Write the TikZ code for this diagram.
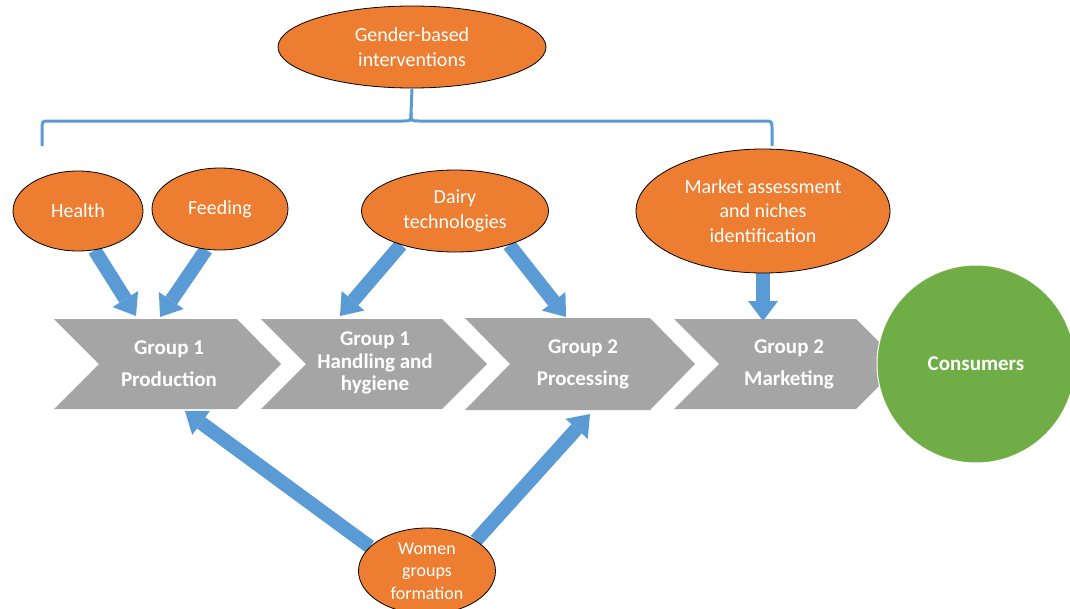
\documentclass[tikz,border=0pt]{standalone}
\usepackage{fontspec}
\setmainfont{Carlito}
\usetikzlibrary{shapes.geometric,arrows.meta}
\pgfdeclarelayer{back}
\pgfsetlayers{back,main}
\definecolor{accOrange}{HTML}{ED7D31}
\definecolor{accBlue}{HTML}{5B9BD5}
\definecolor{accGray}{HTML}{A5A5A5}
\definecolor{accGreen}{HTML}{70AD47}
\begin{document}
\begin{tikzpicture}[x=1pt,y=-1pt,
  oval/.style={ellipse, fill=accOrange, draw=black, line width=0.8pt, text=white,
    inner sep=0pt, align=center, font=\fontsize{20}{24.5}\selectfont},
  chevron/.style={fill=accGray},
  steplabel/.style={text=white, align=center, font=\bfseries\fontsize{21}{24}\selectfont},
  flow/.style={draw=accBlue, line width=14pt,
    -{Triangle[length=20pt,width=30pt,line width=0pt]}},
  brace/.style={draw=accBlue, line width=3pt},
]
\clip (0,0) rectangle (1070,608);

% intervention ovals
\node[oval, minimum width=268pt, minimum height=82pt] (gender) at (412,47) {Gender-based\\interventions};
\node[oval, minimum width=130pt, minimum height=80pt] (health) at (78,211) {Health};
\node[oval, minimum width=136pt, minimum height=82pt] (feeding) at (220,209) {Feeding};
\node[oval, minimum width=187pt, minimum height=82pt] (dairy) at (455,211) {Dairy\\technologies};
\node[oval, minimum width=254pt, minimum height=124pt] (market) at (763,211) {Market assessment\\and niches\\identification};
\node[oval, minimum width=137pt, minimum height=86pt, font=\fontsize{18}{22.5}\selectfont] (women) at (427,571) {Women\\groups\\formation};

% brace under the gender-based interventions
\draw[brace] (42,146) -- (42,129) .. controls (42,121) .. (50,121) -- (403,121)
  .. controls (411,121) .. (411,113) -- (gender.south);
\draw[brace] (411,113) .. controls (411,121) .. (419,121) -- (764,121)
  .. controls (772,121) .. (772,129) -- (772,146);

% value chain steps
\begin{pgfonlayer}{back}
\fill[chevron] (54,319) -- (237,319) -- (281,364) -- (237,409) -- (54,409) -- (99,364) -- cycle;
\fill[chevron] (261,319) -- (442,319) -- (487,364) -- (442,409) -- (261,409) -- (306,364) -- cycle;
\fill[chevron] (465,318) -- (650,318) -- (695,364) -- (650,410) -- (465,410) -- (510,364) -- cycle;
\fill[chevron] (674,319) -- (856,319) -- (901,364) -- (856,409) -- (674,409) -- (719,364) -- cycle;
\end{pgfonlayer}

\node[steplabel] (g1) at (169,364) {Group 1\\[8pt]Production};
\node[steplabel, font=\bfseries\fontsize{21}{22.5}\selectfont] (g2) at (375,363) {Group 1\\Handling and\\hygiene};
\node[steplabel] (g3) at (583,364) {Group 2\\[8pt]Processing};
\node[steplabel] (g4) at (789,364) {Group 2\\[8pt]Marketing};

\node[circle, fill=accGreen, draw=white, line width=1pt, minimum size=198pt, text=white,
  font=\bfseries\fontsize{21}{24}\selectfont] (cons) at (976,364) {Consumers};

% arrow targets on the step outlines
\coordinate (t1) at (136,316);
\coordinate (t2) at (160,317);
\coordinate (t3) at (340,316);
\coordinate (t4) at (566,317);
\coordinate (t5) at (763,321);
\coordinate (t6) at (185,411);
\coordinate (t7) at (590,414);

\begin{pgfonlayer}{back}
\draw[flow] (health.293) -- (t1);
\draw[flow] (feeding.251) -- (t2);
\draw[flow] (dairy.212) -- (t3);
\draw[flow] (dairy.328) -- (t4);
\draw[flow] (market.south) -- (t5);
\draw[flow] (women.157) -- (t6);
\draw[flow] (women.32) -- (t7);
\end{pgfonlayer}
\end{tikzpicture}
\end{document}
